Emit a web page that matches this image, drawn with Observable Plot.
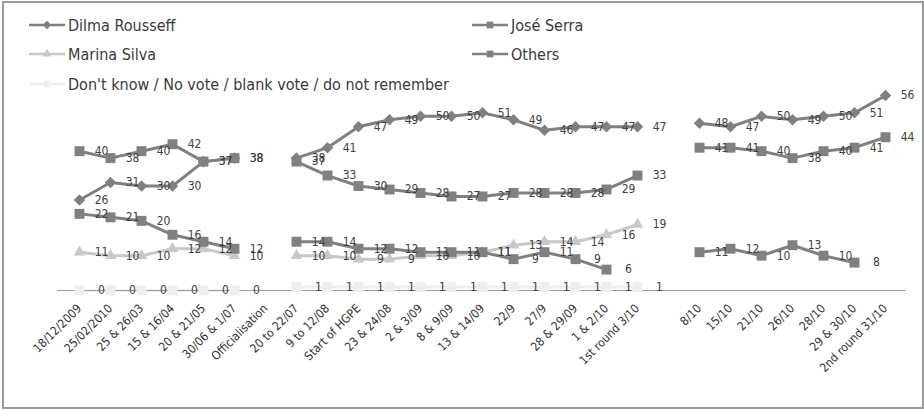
<!DOCTYPE html>
<html>
<head>
<meta charset="utf-8">
<script src="https://cdn.jsdelivr.net/npm/d3@7"></script>
<script src="https://cdn.jsdelivr.net/npm/@observablehq/plot@0.6"></script>
<style>
  html, body { margin: 0; padding: 0; background: #fff; }
  #wrap { position: relative; width: 924px; height: 410px; overflow: hidden; font-family: "Liberation Sans Narrow", "DejaVu Sans Condensed", Lato, sans-serif; }
  #border { position: absolute; left: 2px; top: 1px; width: 918px; height: 404px; border: 2px solid #9a9a9a; pointer-events: none; }
  #chart { position: absolute; left: 0; top: 0; }
  .lg { position: absolute; display: flex; align-items: center; font-size: 16px; color: #3a3a3a; white-space: nowrap; }
  .lg svg { margin-right: 3px; }
</style>
</head>
<body>
<div id="wrap">
  <div id="chart"></div>
  <div id="legend"></div>
  <div id="border"></div>
</div>
<script>
const categories = ["18/12/2009","25/02/2010","25 & 26/03","15 & 16/04","20 & 21/05","30/06 & 1/07","Officialisation",
  "20 to 22/07","9 to 12/08","Start of HGPE","23 & 24/08","2 & 3/09","8 & 9/09","13 & 14/09","22/9","27/9","28 & 29/09","1 & 2/10","1st round 3/10",
  " ",
  "8/10","15/10","21/10","26/10","28/10","29 & 30/10","2nd round 31/10"];

const dilma  = [26,31,30,30,37,38,null, 38,41,47,49,50,50,51,49,46,47,47,47, null, 48,47,50,49,50,51,56];
const serra  = [40,38,40,42,37,38,null, 37,33,30,29,28,27,27,28,28,28,29,33, null, 41,41,40,38,40,41,44];
const marina = [11,10,10,12,12,10,null, 10,10,9,9,10,10,11,13,14,14,16,19, null, null,null,null,null,null,null,null];
const others = [22,21,20,16,14,12,null, 14,14,12,12,11,11,11,9,11,9,6,null, null, 11,12,10,13,10,8,null];
const dontKnow = [0,0,0,0,0,0,null, 1,1,1,1,1,1,1,1,1,1,1,1, null, null,null,null,null,null,null,null];

const seriesNames = ["Dilma Rousseff","José Serra","Marina Silva","Others","Don't know / No vote / blank vote / do not remember"];
const seriesValues = [dilma, serra, marina, others, dontKnow];
const seriesColors = ["#808080","#808080","#c8c8c8","#808080","#eeeeee"];
const seriesSymbols = ["diamond2","square","triangle","square","square"];
const seriesR = [5.2, 5.6, 4.3, 5.6, 5.6];

const rows = (k) => categories.map((c, i) => ({cat: c, v: seriesValues[k][i]}));
const defined = (k) => rows(k).filter(d => d.v != null);

const lineMark = (k) => Plot.line(rows(k), {x: "cat", y: "v", stroke: seriesColors[k], strokeWidth: 3});
const dotMark = (k) => Plot.dot(defined(k), {x: "cat", y: "v", symbol: seriesSymbols[k], r: seriesR[k], fill: seriesColors[k], stroke: "none"});
const textMark = (k) => Plot.text(defined(k), {x: "cat", y: "v", text: d => String(d.v), dx: 22, fill: "#404040", fontSize: 12});

const order = [0, 1, 2, 3];
const marks = [];
for (const k of order) { marks.push(lineMark(k)); marks.push(dotMark(k)); }
marks.push(lineMark(4));
marks.push(Plot.ruleY([0], {stroke: "#a0a0a0", strokeWidth: 1}));
marks.push(dotMark(4));
for (const k of [4, 3, 2, 1, 0]) marks.push(textMark(k));

const chart = Plot.plot({
  width: 924,
  height: 410,
  marginLeft: 57,
  marginRight: 18,
  marginTop: 81,
  marginBottom: 120,
  style: {background: "transparent", fontFamily: '"Liberation Sans Narrow", "DejaVu Sans Condensed", Lato, sans-serif', fontSize: "12px", color: "#333"},
  x: {type: "point", domain: categories, padding: 0.5, tickRotate: -45, tickSize: 0, tickPadding: 16, label: null, tickFormat: d => d.trim()},
  y: {domain: [0, 60], axis: null},
  marks
});
document.getElementById("chart").appendChild(chart);

// legend
const legendPos = [
  {k: 0, left: 29, top: 25},
  {k: 1, left: 472, top: 25},
  {k: 2, left: 29, top: 54},
  {k: 3, left: 472, top: 54},
  {k: 4, left: 29, top: 84}
];
const lg = document.getElementById("legend");
for (const p of legendPos) {
  const k = p.k;
  const div = document.createElement("div");
  div.className = "lg";
  div.style.left = p.left + "px";
  div.style.top = (p.top - 11) + "px";
  div.style.height = "22px";
  const w = 36;
  const sym = d3.symbol().type({diamond2: d3.symbolDiamond2, square: d3.symbolSquare, triangle: d3.symbolTriangle}[seriesSymbols[k]]).size(k === 0 ? 45 : k === 2 ? 35 : 45)();
  div.innerHTML = `<svg width="${w}" height="22"><line x1="0" x2="${w}" y1="11" y2="11" stroke="${seriesColors[k]}" stroke-width="2.5"/><path d="${sym}" transform="translate(${w/2},11)" fill="${seriesColors[k]}"/></svg><span>${seriesNames[k]}</span>`;
  lg.appendChild(div);
}
</script>
</body>
</html>
